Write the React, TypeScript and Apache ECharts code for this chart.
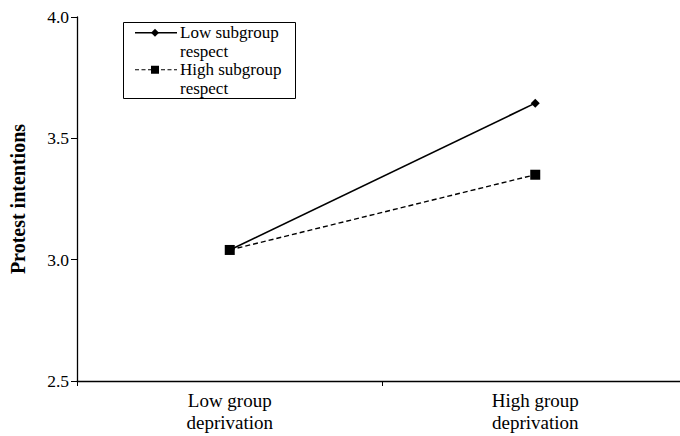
import React, { useEffect, useRef } from "react";
import * as echarts from "echarts";

const categories = ["Low group\ndeprivation", "High group\ndeprivation"];
const lowRespect = [3.04, 3.645];
const highRespect = [3.04, 3.35];
const yTicks = { min: 2.5, max: 4.0, interval: 0.5 };
const seriesNames = ["Low subgroup respect", "High subgroup respect"];
const legendLines = ["Low subgroup", "respect", "High subgroup", "respect"];

const FONT = "'Liberation Serif', 'Times New Roman', serif";

export default function App() {
  const ref = useRef<HTMLDivElement>(null);
  useEffect(() => {
    if (!ref.current) return;
    const chart = echarts.init(ref.current, null, { renderer: "svg" });
    const legendTextX = 180;
    const legendTop = 23.5;
    const lh = 18.5;
    chart.setOption({
      animation: false,
      backgroundColor: "#fff",
      grid: { left: 76, top: 17, width: 612, height: 364 },
      xAxis: {
        type: "category",
        data: categories,
        boundaryGap: true,
        axisLine: { lineStyle: { color: "#000", width: 1.3 } },
        axisTick: { show: true, length: 5, lineStyle: { color: "#000" } },
        axisLabel: {
          color: "#000",
          fontFamily: FONT,
          fontSize: 19,
          lineHeight: 22,
          margin: 8,
        },
      },
      yAxis: {
        type: "value",
        min: yTicks.min,
        max: yTicks.max,
        interval: yTicks.interval,
        name: "Protest intentions",
        nameLocation: "middle",
        nameRotate: 90,
        nameGap: 49,
        nameTextStyle: { color: "#000", fontFamily: FONT, fontSize: 20, fontWeight: "bold" },
        axisLine: { show: true, lineStyle: { color: "#000", width: 1.3 } },
        axisTick: { show: true, length: 6, lineStyle: { color: "#000" } },
        splitLine: { show: false },
        axisLabel: {
          color: "#000",
          fontFamily: FONT,
          fontSize: 17.5,
          margin: 8,
          formatter: (v: number) => v.toFixed(1),
        },
      },
      series: [
        {
          name: seriesNames[0],
          type: "line",
          data: lowRespect,
          symbol: "diamond",
          symbolSize: 9,
          itemStyle: { color: "#000" },
          lineStyle: { color: "#000", width: 1.6 },
          z: 2,
        },
        {
          name: seriesNames[1],
          type: "line",
          data: highRespect,
          symbol: "rect",
          symbolSize: 10,
          itemStyle: { color: "#000" },
          lineStyle: { color: "#000", width: 1.4, type: [5, 3] },
          z: 3,
        },
      ],
      graphic: [
        {
          type: "rect",
          shape: { x: 123.5, y: 22.5, width: 172, height: 76 },
          style: { fill: "#fff", stroke: "#000", lineWidth: 1 },
          z: 10,
        },
        {
          type: "line",
          shape: { x1: 135, y1: legendTop + lh * 0.5, x2: 177, y2: legendTop + lh * 0.5 },
          style: { stroke: "#000", lineWidth: 1.5 },
          z: 11,
        },
        {
          type: "polygon",
          shape: {
            points: [
              [155, legendTop + lh * 0.5 - 4],
              [159, legendTop + lh * 0.5],
              [155, legendTop + lh * 0.5 + 4],
              [151, legendTop + lh * 0.5],
            ],
          },
          style: { fill: "#000" },
          z: 12,
        },
        {
          type: "line",
          shape: { x1: 135, y1: legendTop + lh * 2.5, x2: 177, y2: legendTop + lh * 2.5 },
          style: { stroke: "#000", lineWidth: 1.2, lineDash: [4, 2.5] },
          z: 11,
        },
        {
          type: "rect",
          shape: { x: 151, y: legendTop + lh * 2.5 - 4, width: 8, height: 8 },
          style: { fill: "#000" },
          z: 12,
        },
        ...legendLines.map((t, i) => ({
          type: "text",
          x: legendTextX,
          y: legendTop + lh * (i + 0.5),
          style: {
            text: t,
            fill: "#000",
            font: `17px ${FONT}`,
            textVerticalAlign: "middle",
            textAlign: "left",
          },
          z: 12,
        })),
      ],
    });
    return () => chart.dispose();
  }, []);
  return (
    <div style={{ width: 680, height: 436, position: "absolute", left: 0, top: 0, overflow: "hidden" }}>
      <div ref={ref} style={{ width: 700, height: 436 }} />
    </div>
  );
}
